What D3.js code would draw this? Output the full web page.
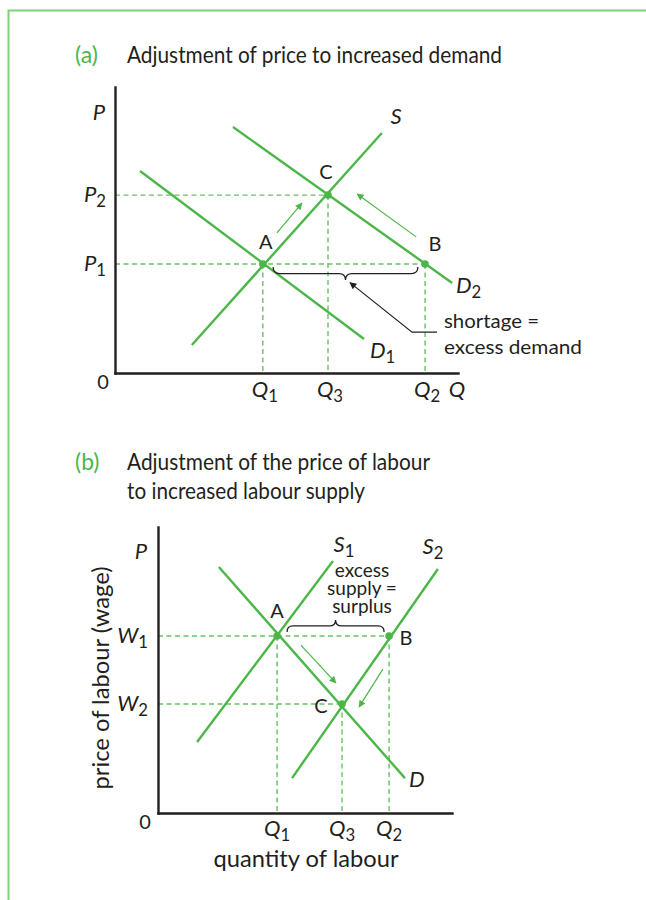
<!DOCTYPE html>
<html><head><meta charset="utf-8">
<script src="https://cdn.jsdelivr.net/npm/d3@7"></script>
<style>
body{margin:0;background:#fff}
svg{display:block}
text{font-family:Lato,"Open Sans",sans-serif;fill:#231f20}
</style>
</head><body>
<svg id="c" width="646" height="900"></svg>
<script>
// ---------- Panel (a): price adjustment to increased demand ----------
const qSubsA = ["1", "3", "2"];
const qValuesA = [43.1, 62.1, 90.4];
const pSubsA = ["2", "1"];
const pValuesA = [62.2, 38.1];
const supplyA = [[22.4, 9.8], [77.8, 83.9]];
const demand1A = [[7.3, 70.6], [72.6, 11.9]];
const demand2A = [[34.4, 86.0], [98.3, 31.5]];
const pointNamesA = ["A", "C", "B"];
const pointQA = [43.1, 62.1, 90.4];
const pointPA = [38.1, 62.2, 38.1];
const arrowsA = [[[47.2, 49.0], [54.5, 59.4]], [[87.8, 47.6], [70.6, 62.6]]];
const shortageBraceA = [46.1, 88.3];
const shortagePointerA = [[93.9, 14.3], [86.6, 14.3], [68.5, 31.6]];
const shortageText = ["shortage =", "excess demand"];

// ---------- Panel (b): labour market adjustment to increased supply ----------
const qSubsB = ["1", "3", "2"];
const qValuesB = [40.5, 62.6, 78.6];
const wSubsB = ["1", "2"];
const wValuesB = [61.9, 38.1];
const supply1B = [[13.3, 24.8], [59.5, 88.1]];
const supply2B = [[45.6, 12.2], [95.2, 85.3]];
const demandB = [[20.7, 86.0], [84.0, 12.2]];
const pointNamesB = ["A", "C", "B"];
const pointQB = [40.5, 62.6, 78.6];
const pointPB = [61.9, 38.1, 61.9];
const arrowsB = [[[48.6, 58.7], [60.5, 45.5]], [[76.5, 50.3], [68.4, 37.1]]];
const surplusBraceB = [43.9, 76.9];
const surplusText = ["excess", "supply =", "surplus"];

const GREEN = "#4cb748", DASH = "#67c462", INK = "#231f20", BORDER = "#7fd07b";
const svg = d3.select("#c");

svg.append("path").attr("d", "M8.5,900V10.5H646").attr("fill", "none")
  .attr("stroke", BORDER).attr("stroke-width", 2);

const defs = svg.append("defs");
function marker(id, color, w, h) {
  defs.append("marker").attr("id", id).attr("viewBox", "0 0 10 10")
    .attr("refX", 9).attr("refY", 5).attr("markerWidth", w).attr("markerHeight", h)
    .attr("markerUnits", "userSpaceOnUse").attr("orient", "auto")
    .append("path").attr("d", "M0,0L10,5L0,10z").attr("fill", color);
}
marker("ga", GREEN, 9, 7);
marker("ka", INK, 10, 7);

function lbl(g, x, y, main, sub, anchor, size, italic) {
  const t = g.append("text").attr("x", x).attr("y", y).attr("text-anchor", anchor || "middle")
    .style("font-size", (size || 20) + "px");
  t.append("tspan").text(main).style("font-style", italic === false ? "normal" : "italic");
  if (sub) t.append("tspan").text(sub).attr("dy", (size || 20) * 0.22)
    .style("font-size", ((size || 20) * 0.76) + "px").style("font-style", "normal");
  return t;
}
function brace(x1, x2, y, r, d) {
  const m = (x1 + x2) / 2;
  return `M${x1},${y}Q${x1},${y + d * r} ${x1 + r},${y + d * r}L${m - r},${y + d * r}` +
    `Q${m},${y + d * r} ${m},${y + 2 * d * r}Q${m},${y + d * r} ${m + r},${y + d * r}` +
    `L${x2 - r},${y + d * r}Q${x2},${y + d * r} ${x2},${y}`;
}
function title(y, lines, x0, widths) {
  svg.append("text").attr("x", 75).attr("y", y).style("font-size", "23px")
    .style("fill", GREEN).text(lines[0]);
  lines.slice(1).forEach((s, i) => {
    svg.append("text").attr("x", x0).attr("y", y + i * 29).style("font-size", "23px")
      .attr("textLength", widths[i]).attr("lengthAdjust", "spacingAndGlyphs").text(s);
  });
}
function drawPanel(o) {
  const g = svg.append("g");
  const x = o.x, y = o.y;
  o.hDash.forEach(([q, p]) => g.append("line").attr("x1", x(0)).attr("x2", x(q))
    .attr("y1", y(p)).attr("y2", y(p)).attr("stroke", DASH).attr("stroke-width", 1.4)
    .attr("stroke-dasharray", "5,3.5"));
  o.vDash.forEach(([q, p]) => g.append("line").attr("x1", x(q)).attr("x2", x(q))
    .attr("y1", y(p)).attr("y2", y(0)).attr("stroke", DASH).attr("stroke-width", 1.4)
    .attr("stroke-dasharray", "5,3.5"));
  const line = d3.line().x(d => x(d[0])).y(d => y(d[1]));
  o.curves.forEach(c => g.append("path").attr("d", line(c)).attr("fill", "none")
    .attr("stroke", GREEN).attr("stroke-width", 2.4));
  o.arrows.forEach(a => g.append("path").attr("d", line(a)).attr("fill", "none")
    .attr("stroke", GREEN).attr("stroke-width", 1.2).attr("marker-end", "url(#ga)"));
  const ax = g.append("g").attr("transform", `translate(${x(0)},0)`)
    .call(d3.axisLeft(y).tickValues([]).tickSizeOuter(0));
  const bx = g.append("g").attr("transform", `translate(0,${y(0)})`)
    .call(d3.axisBottom(x).tickValues([]).tickSizeOuter(0));
  [ax, bx].forEach(a => a.select(".domain").attr("stroke", INK).attr("stroke-width", 2.4)
    .attr("stroke-linecap", "square"));
  o.pq.forEach((q, i) => {
    g.append("circle").attr("cx", x(q)).attr("cy", y(o.pp[i])).attr("r", 3.8).attr("fill", GREEN);
  });
  return g;
}

// ---------- Panel (a) ----------
title(63, ["(a)", "Adjustment of price to increased demand"], 127, [375]);
const xA = d3.scaleLinear().domain([0, 100]).range([115, 458]);
const yA = d3.scaleLinear().domain([0, 100]).range([373, 87]);
const gA = drawPanel({
  x: xA, y: yA,
  hDash: [[qValuesA[1], pValuesA[0]], [qValuesA[2], pValuesA[1]]],
  vDash: [[qValuesA[0], pValuesA[1]], [qValuesA[1], pValuesA[0]], [qValuesA[2], pValuesA[1]]],
  curves: [supplyA, demand1A, demand2A],
  arrows: arrowsA,
  pq: pointQA, pp: pointPA
});
gA.append("path").attr("d", brace(xA(shortageBraceA[0]), xA(shortageBraceA[1]), yA(pValuesA[1]) + 3, 6.5, 1))
  .attr("fill", "none").attr("stroke", INK).attr("stroke-width", 1.3);
gA.append("path").attr("d", d3.line().x(d => xA(d[0])).y(d => yA(d[1]))(shortagePointerA))
  .attr("fill", "none").attr("stroke", INK).attr("stroke-width", 1.2).attr("marker-end", "url(#ka)");
shortageText.forEach((s, i) => gA.append("text").attr("x", 444).attr("y", 328 + i * 26)
  .attr("textLength", i ? 138 : 95).attr("lengthAdjust", "spacingAndGlyphs")
  .style("font-size", "20px").text(s));
lbl(gA, 99, 120, "P", null, "middle", 22);
pSubsA.forEach((s, i) => lbl(gA, 106, yA(pValuesA[i]) + 7, "P", s, "end", 22));
lbl(gA, 103, 389, "0", null, "middle", 20, false);
qSubsA.forEach((s, i) => lbl(gA, xA(qValuesA[i]) + 2, 397, "Q", s, "middle", 22));
lbl(gA, 457, 397, "Q", null, "middle", 22);
lbl(gA, 396, 124, "S", null, "middle", 22);
lbl(gA, 370, 358, "D", "1", "start", 22);
lbl(gA, 456, 293, "D", "2", "start", 22);
const offA = [[3, -15], [-2, -16], [10, -13]];
pointNamesA.forEach((n, i) => lbl(gA, xA(pointQA[i]) + offA[i][0], yA(pointPA[i]) + offA[i][1], n, null, "middle", 20, false));

// ---------- Panel (b) ----------
title(470, ["(b)", "Adjustment of the price of labour", "to increased labour supply"], 127, [303, 238]);
const xB = d3.scaleLinear().domain([0, 100]).range([158, 452]);
const yB = d3.scaleLinear().domain([0, 100]).range([813, 527]);
const gB = drawPanel({
  x: xB, y: yB,
  hDash: [[qValuesB[2], wValuesB[0]], [qValuesB[1], wValuesB[1]]],
  vDash: [[qValuesB[0], wValuesB[0]], [qValuesB[1], wValuesB[1]], [qValuesB[2], wValuesB[0]]],
  curves: [supply1B, supply2B, demandB],
  arrows: arrowsB,
  pq: pointQB, pp: pointPB
});
gB.append("path").attr("d", brace(xB(surplusBraceB[0]), xB(surplusBraceB[1]), yB(wValuesB[0]) - 4, 6, -1))
  .attr("fill", "none").attr("stroke", INK).attr("stroke-width", 1.3);
surplusText.forEach((s, i) => gB.append("text").attr("x", 362).attr("y", 577 + i * 18)
  .attr("text-anchor", "middle").style("font-size", "19px").text(s));
lbl(gB, 141, 559, "P", null, "middle", 22);
wSubsB.forEach((s, i) => lbl(gB, 148, yB(wValuesB[i]) + 7, "W", s, "end", 22));
lbl(gB, 145, 829, "0", null, "middle", 20, false);
qSubsB.forEach((s, i) => lbl(gB, xB(qValuesB[i]), 836, "Q", s, "middle", 22));
lbl(gB, 344, 552, "S", "1", "middle", 22);
lbl(gB, 433, 554, "S", "2", "middle", 22);
lbl(gB, 409, 787, "D", null, "start", 22);
const offB = [[0, -18], [-21, 9], [17, 9]];
pointNamesB.forEach((n, i) => lbl(gB, xB(pointQB[i]) + offB[i][0], yB(pointPB[i]) + offB[i][1], n, null, "middle", 20, false));
gB.append("text").attr("transform", "translate(109,678)rotate(-90)").attr("text-anchor", "middle")
  .attr("textLength", 223).attr("lengthAdjust", "spacingAndGlyphs")
  .style("font-size", "24px").text("price of labour (wage)");
gB.append("text").attr("x", 306).attr("y", 867).attr("text-anchor", "middle")
  .attr("textLength", 185).attr("lengthAdjust", "spacingAndGlyphs")
  .style("font-size", "23px").text("quantity of labour");
</script>
</body></html>
